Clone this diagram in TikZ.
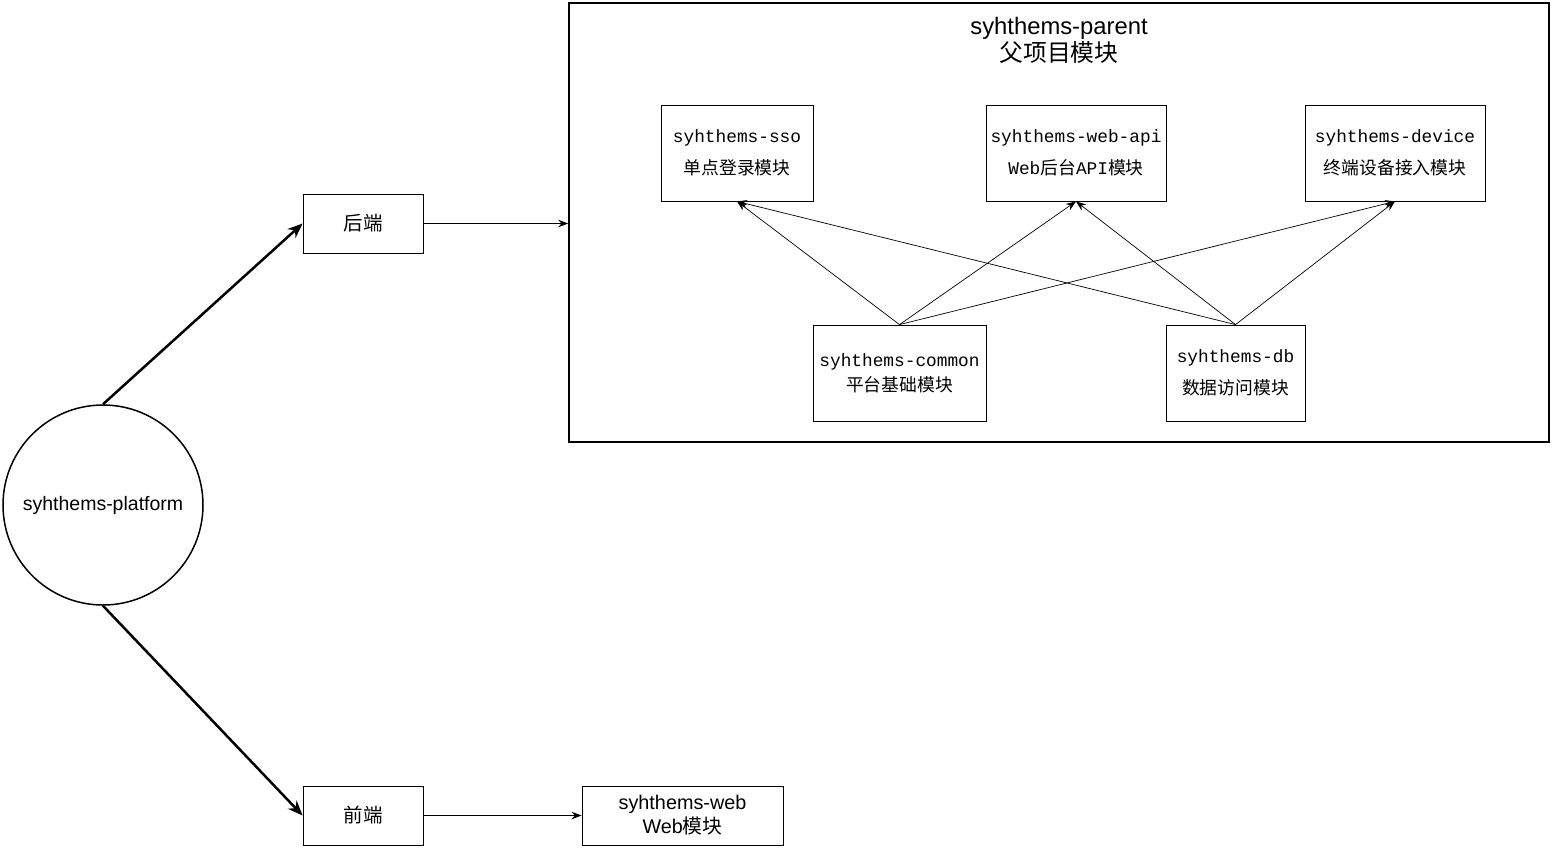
\documentclass[tikz,border=0pt]{standalone}
\usepackage{fontspec}
\setmainfont{Liberation Sans}
\setmonofont{Liberation Mono}
\newfontfamily\cjk{Noto Sans CJK SC}
\usetikzlibrary{arrows.meta}
\tikzset{
  modbox/.style={draw, line width=0.8pt, inner sep=0pt, align=center, anchor=center},
  thin arrow/.style={line width=0.7pt, -{Stealth[length=10pt,width=7.5pt]}},
  mid arrow/.style={line width=0.9pt, -{Stealth[length=10pt,width=7.5pt]}},
  thick arrow/.style={line width=2.5pt, -{Stealth[length=15pt,width=12pt]}},
}
\begin{document}
\begin{tikzpicture}[x=1pt,y=-1pt]
\useasboundingbox (0,0) rectangle (1554,848);
% parent container
\node[draw, line width=1.6pt, minimum width=980, minimum height=439, inner sep=0pt] (parent) at (1059,222.5) {};
\node[align=center, font=\fontsize{23.8}{27}\selectfont] (ptitle) at (1059,40) {syhthems-parent\\{\cjk 父项目模块}};
% inner modules
\node[modbox, minimum width=152, minimum height=96, font=\fontsize{17.8}{32}\selectfont] (sso) at (737,153)
  {{\ttfamily syhthems-sso}\\{\cjk 单点登录模块}};
\node[modbox, minimum width=180, minimum height=96, font=\fontsize{17.8}{32}\selectfont] (webapi) at (1076,153)
  {{\ttfamily syhthems-web-api}\\{\ttfamily Web}{\cjk 后台}{\ttfamily API}{\cjk 模块}};
\node[modbox, minimum width=180, minimum height=96, font=\fontsize{17.8}{32}\selectfont] (device) at (1395,153)
  {{\ttfamily syhthems-device}\\{\cjk 终端设备接入模块}};
\node[modbox, minimum width=173, minimum height=96, font=\fontsize{17.8}{25}\selectfont] (common) at (899.5,373)
  {{\ttfamily syhthems-common}\\{\cjk 平台基础模块}};
\node[modbox, minimum width=139, minimum height=96, font=\fontsize{17.8}{32}\selectfont] (db) at (1235.5,373)
  {{\ttfamily syhthems-db}\\{\cjk 数据访问模块}};
% left side
\node[draw, circle, line width=1.5pt, minimum size=200, inner sep=0pt, font=\fontsize{19.5}{24}\selectfont] (plat) at (103,505) {syhthems-platform};
\node[modbox, minimum width=120, minimum height=59, font=\fontsize{19.5}{24}\selectfont] (hd) at (363,223.5) {\cjk 后端};
\node[modbox, minimum width=120, minimum height=59, font=\fontsize{19.5}{24}\selectfont] (qd) at (363,815.5) {\cjk 前端};
\node[modbox, minimum width=201, minimum height=59, font=\fontsize{19.8}{24}\selectfont] (web) at (682.5,815.5) {syhthems-web\\Web{\cjk 模块}};
% connectors
\draw[thick arrow] (plat.north) -- (hd.west);
\draw[thick arrow] (plat.south) -- (qd.west);
\draw[mid arrow] (hd.east) -- (hd.east -| parent.west);
\draw[mid arrow] (qd.east) -- (web.west);
\draw[thin arrow] (common.north) -- (sso.south);
\draw[thin arrow] (common.north) -- (webapi.south);
\draw[thin arrow] (common.north) -- (device.south);
\draw[thin arrow] (db.north) -- (sso.south);
\draw[thin arrow] (db.north) -- (webapi.south);
\draw[thin arrow] (db.north) -- (device.south);
\end{tikzpicture}
\end{document}
